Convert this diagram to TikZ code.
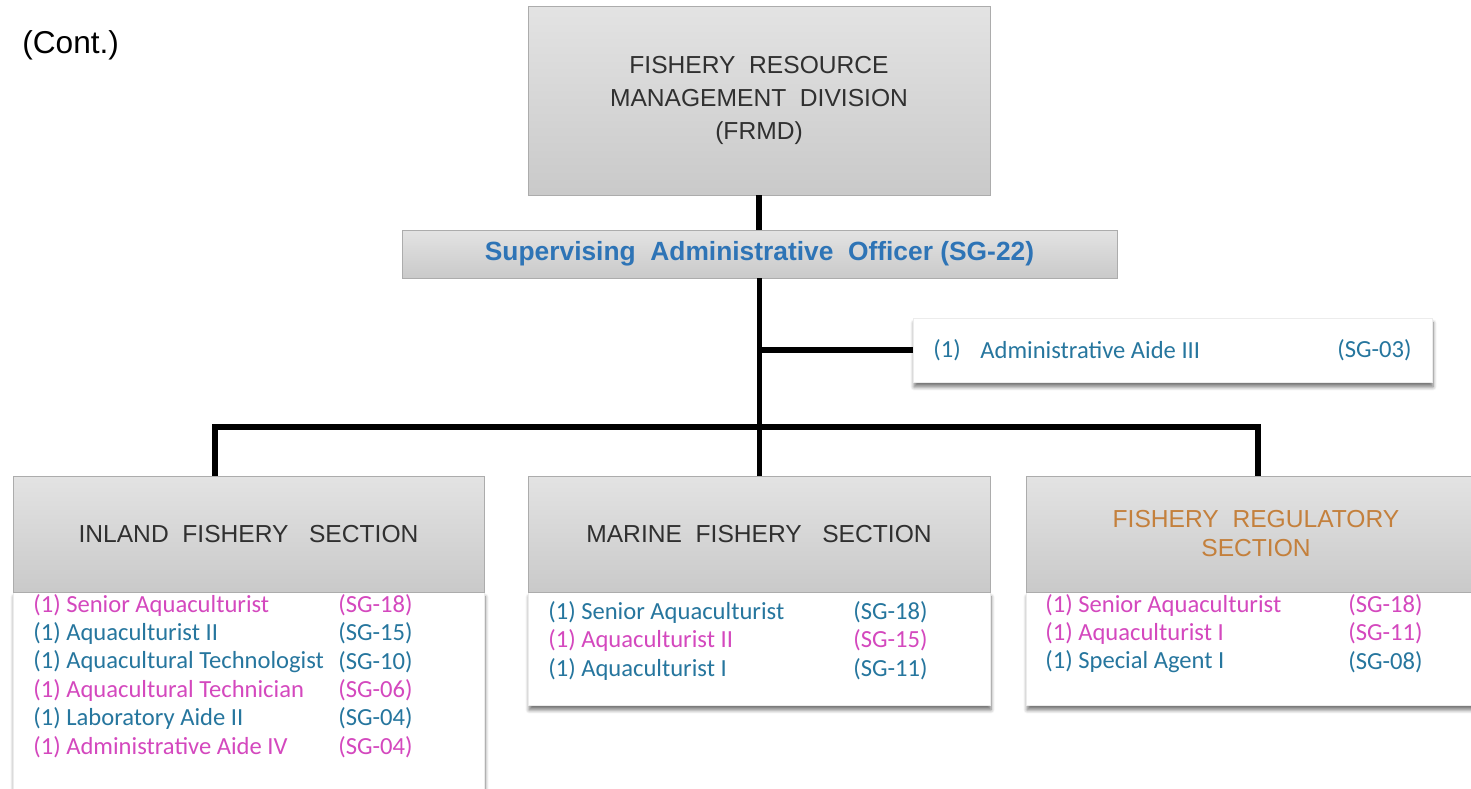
\documentclass[tikz,border=0pt]{standalone}
\usepackage{fontspec}
\setmainfont{Liberation Sans}
\newfontfamily\rolefont{Carlito}
\usepackage{tikz}
\usetikzlibrary{shadows.blur}

\definecolor{rolepink}{RGB}{212,72,190}
\definecolor{roleblue}{RGB}{38,118,158}
\definecolor{officeblue}{RGB}{46,116,182}
\definecolor{sectorange}{RGB}{196,128,60}
\definecolor{headgray}{RGB}{48,48,48}

\tikzset{
  graybox/.style={draw=gray!65, top color=gray!22, bottom color=gray!42, inner sep=0pt,
    align=center, text=headgray, font=\fontsize{14}{19}\selectfont},
  listbox/.style={draw=gray!15, fill=white, inner sep=0pt,
    blur shadow={shadow blur steps=6, shadow xshift=.6pt, shadow yshift=-2.8pt, shadow opacity=55}},
  link/.style={line width=3.4pt, line join=miter},
  role/.style={anchor=west, inner sep=0pt, font=\rolefont\fontsize{14}{16}\selectfont},
}

\begin{document}
\begin{tikzpicture}[x=0.02cm,y=-0.02cm]
        \useasboundingbox (0,0) rectangle (1471,788);
        \node[anchor=west, inner sep=0pt, font=\fontsize{18}{21}\selectfont] (cont) at (22,45) {(Cont.)};

        % division and office
        \node[graybox, minimum width=9.24cm, minimum height=3.78cm] (frmd) at (759,100.5)
             {FISHERY\ \ RESOURCE\\MANAGEMENT\ \ DIVISION\\(FRMD)};
        \node[graybox, minimum width=14.3cm, minimum height=0.96cm, text=officeblue,
              font=\bfseries\fontsize{15}{17}\selectfont] (sao) at (759.5,254)
             {Supervising\ \ Administrative\ \ Officer (SG-22)};

        \node[listbox, minimum width=10.38cm, minimum height=1.28cm] (aide) at (1172.5,350) {};
        \node[role,text=roleblue] (aide-n) at (933,350) {(1)};
        \node[role,text=roleblue] (aide-job) at (980,350) {Administrative Aide III};
        \node[role,text=roleblue] (aide-sg) at (1337,350) {(SG-03)};

        % sections
        \node[listbox, minimum width=9.42cm, minimum height=3.96cm] (inlandlist) at (248.5,691) {};
        \node[graybox, minimum width=9.42cm, minimum height=2.32cm] (inlandhead) at (248.5,534)
             {INLAND\ \ FISHERY\ \ \ SECTION};
        \node[listbox, minimum width=9.24cm, minimum height=2.26cm] (marinelist) at (759,648.5) {};
        \node[graybox, minimum width=9.24cm, minimum height=2.32cm] (marinehead) at (759,534)
             {MARINE\ \ FISHERY\ \ \ SECTION};
        \node[listbox, minimum width=9.2cm, minimum height=2.26cm] (reglist) at (1256,648.5) {};
        \node[graybox, minimum width=9.2cm, minimum height=2.32cm, text=sectorange,
              font=\fontsize{14}{16.5}\selectfont] (reghead) at (1256,534)
             {FISHERY\ \ REGULATORY\\SECTION};

        % lines
        \coordinate (busleft) at (215,427);
        \coordinate (busright) at (1258,427);
        \draw[link] (frmd.south) -- (frmd.south |- sao.north);
        \draw[link] (sao.south) -- (sao.south |- marinehead.north);
        \draw[link] (sao.south |- aide.west) -- (aide.west);
        \draw[link] (busleft |- inlandhead.north) -- (busleft) -- (busright) -- (busright |- reghead.north);

        % positions
        \foreach \job/\sg/\c [count=\i] in {Senior Aquaculturist/18/rolepink,
            Aquaculturist II/15/roleblue, Aquacultural Technologist/10/roleblue,
            Aquacultural Technician/06/rolepink, Laboratory Aide II/04/roleblue,
            Administrative Aide IV/04/rolepink}
        {
            \node[role,text=\c] (inland-job\i) at (33,{576.6+28.4*\i}) {(1) \job};
            \node[role,text=\c] (inland-sg\i) at (338,{576.6+28.4*\i}) {(SG-\sg)};
        }
        \foreach \job/\sg/\c [count=\i] in {Senior Aquaculturist/18/roleblue,
            Aquaculturist II/15/rolepink, Aquaculturist I/11/roleblue}
        {
            \node[role,text=\c] (marine-job\i) at (548,{583.5+28.5*\i}) {(1) \job};
            \node[role,text=\c] (marine-sg\i) at (853,{583.5+28.5*\i}) {(SG-\sg)};
        }
        \foreach \job/\sg/\c [count=\i] in {Senior Aquaculturist/18/rolepink,
            Aquaculturist I/11/rolepink, Special Agent I/08/roleblue}
        {
            \node[role,text=\c] (reg-job\i) at (1045,{576.5+28.5*\i}) {(1) \job};
            \node[role,text=\c] (reg-sg\i) at (1348,{576.5+28.5*\i}) {(SG-\sg)};
        }
\end{tikzpicture}
\end{document}
